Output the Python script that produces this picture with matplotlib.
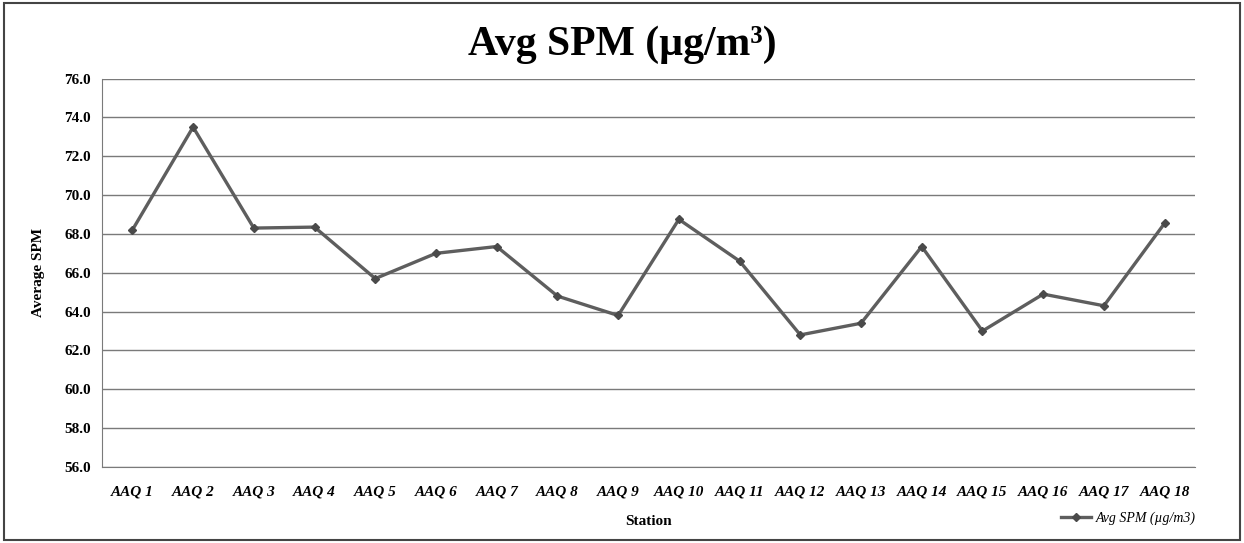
import matplotlib.pyplot as plt
from matplotlib.patches import Rectangle

stations = [f"AAQ {i}" for i in range(1, 19)]
avg_spm = [68.2, 73.5, 68.3, 68.35, 65.7, 67.0, 67.35, 64.8, 63.8,
           68.75, 66.6, 62.8, 63.4, 67.35, 63.0, 64.9, 64.3, 68.55]
y_ticks = [56.0, 58.0, 60.0, 62.0, 64.0, 66.0, 68.0, 70.0, 72.0, 74.0, 76.0]

plt.rcParams['font.family'] = ['Liberation Serif', 'DejaVu Serif']

fig = plt.figure(figsize=(12.44, 5.43), dpi=100)
ax = fig.add_axes([0.082, 0.140, 0.8786, 0.7154])

x = list(range(len(stations)))
ax.plot(x, avg_spm, color="#5e5e5e", linewidth=2.4, marker="D", markersize=4.5,
        markerfacecolor="#4a4a4a", markeredgecolor="#4a4a4a", label="Avg SPM (µg/m3)", zorder=3)

ax.set_ylim(56, 76)
ax.set_yticks(y_ticks)
ax.set_yticklabels([f"{v:.1f}" for v in y_ticks], fontsize=11, fontweight="bold")
ax.set_xlim(-0.5, len(stations) - 0.5)
ax.set_xticks(x)
ax.set_xticklabels(stations, fontsize=11, fontweight="bold", style="italic")
ax.tick_params(axis="y", length=0, pad=8)
ax.tick_params(axis="x", length=0, pad=13)

ax.grid(axis="y", color="#7a7a7a", linewidth=1.0)
ax.set_axisbelow(True)
for side in ["top", "right"]:
    ax.spines[side].set_visible(False)
ax.spines["left"].set_color("#7a7a7a")
ax.spines["bottom"].set_color("#7a7a7a")

ax.set_xlabel("Station", fontsize=11, fontweight="bold", labelpad=12)
ax.set_ylabel("Average SPM", fontsize=11, fontweight="bold", labelpad=14)

fig.text(0.5, 0.918, "Avg SPM (µg/m³)", ha="center", va="center",
         fontsize=30, fontweight="bold")

ax.legend(loc="center right", bbox_to_anchor=(1.012, -0.132), frameon=False,
          prop={"size": 10, "style": "italic"}, handlelength=2.2, handletextpad=0.3)

fig.patches.append(Rectangle((0.003, 0.005), 0.994, 0.99, transform=fig.transFigure,
                             fill=False, edgecolor="#444444", linewidth=1.5))

fig.savefig("out.png", dpi=100)
